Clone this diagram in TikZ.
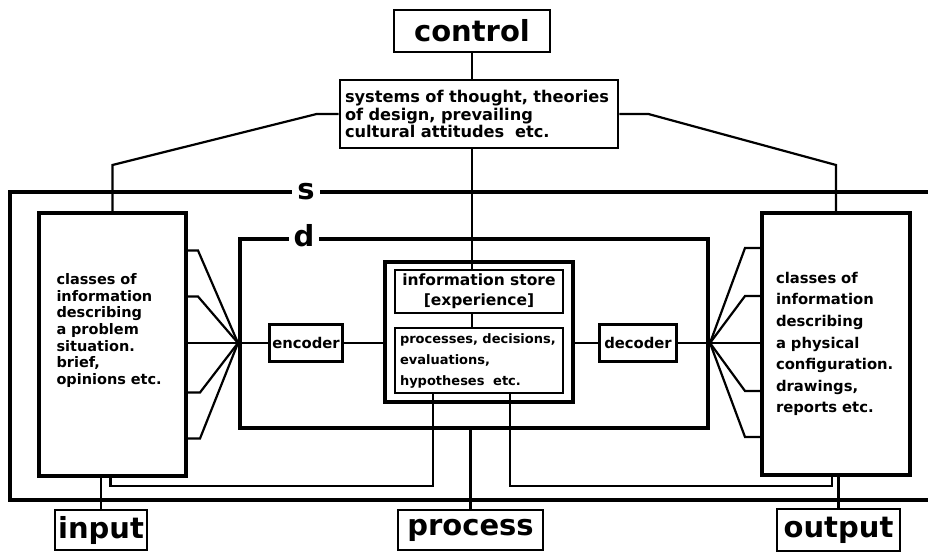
\documentclass[tikz,border=0pt]{standalone}
\usepackage{fontspec}
\setmainfont{DejaVu Sans}
\usepackage{tikz}
\newcommand\infofont[2]{\fontsize{#1}{#2}\selectfont\bfseries}
\newcommand\termfont{\fontsize{29}{34}\selectfont\bfseries}
\tikzstyle{box} = [draw, rectangle, line width=2.8pt, inner sep=0pt,
    font=\infofont{14.5}{17}]
\tikzstyle{term} = [draw, rectangle, line width=2.6pt, inner sep=0pt,
    font=\termfont]
\tikzstyle{frame} = [line width=4pt]
\tikzstyle{wire} = [line width=2.2pt]
\tikzstyle{tag} = [fill=white, inner xsep=5pt, inner ysep=2pt, font=\termfont]

\begin{document}
\begin{tikzpicture}[x=1pt, y=-1pt, node distance=100pt]
    \useasboundingbox (0,0) rectangle (928,556);
    % outer system s, open to the right
    \draw [frame] (928,192) -- (10,192) -- (10,500) -- (928,500);
    \node [tag] (s) at (306,192) {s};
    % design box d
    \node [draw, frame, rectangle, minimum width=468pt, minimum height=189pt] (dbox) at (474,333.5) {};
    \node [tag] (d) at (304,236) {d};
    % control
    \node [term, minimum width=156pt, minimum height=42pt] (control) at (472,31) {control};
    \node [box, minimum width=278pt, minimum height=68pt, text width=268pt, align=left,
        font=\infofont{16.2}{17.5}] (systems) at (479,114)
        {systems of thought, theories\\ of design, prevailing\\ cultural attitudes\ \ etc.};
    % store and processes
    \node [box, line width=4pt, minimum width=188pt, minimum height=140pt] (core) at (479,332) {};
    \node [box, line width=2.4pt, minimum width=168pt, minimum height=43pt, align=center, above of=core,
        node distance=40.5pt, font=\infofont{15.5}{20}] (store) {information store\\ {[}experience{]}};
    \node [box, line width=2.4pt, minimum width=168pt, minimum height=65pt, text width=166pt, align=left,
        below of=core, node distance=28.5pt, font=\infofont{13}{21}] (procs)
        {\hspace{4pt}processes, decisions,\\ \hspace{4pt}evaluations,\\ \hspace{4pt}hypotheses\ \ etc.};
    \node [box, minimum width=73pt, minimum height=37pt, font=\infofont{14.8}{17}] (encoder) at (306,343) {encoder};
    \node [box, minimum width=77pt, minimum height=37pt, font=\infofont{14.8}{17}, right of=encoder,
        node distance=332pt] (decoder) {decoder};
    % information classes
    \node [box, line width=4pt, minimum width=147pt, minimum height=263pt] (leftinfo) at (112.5,344.5) {};
    \node [text width=112pt, align=left, font=\infofont{14.5}{16.7}] (intext) at ([yshift=14pt]leftinfo.center)
        {classes of\\ information\\ describing\\ a problem\\ situation.\\ brief,\\ opinions etc.};
    \node [box, line width=4pt, minimum width=148pt, minimum height=262pt, text width=120pt, align=left,
        font=\infofont{14.8}{21.6}] (rightinfo) at (836,344)
        {classes of\\ information\\ describing\\ a physical\\ configuration.\\ drawings,\\ reports etc.};
    % terminals
    \node [term, minimum width=145pt, minimum height=40pt] (process) at (470.5,530) {process};
    \node [term, minimum width=92pt, minimum height=40pt, left of=process, node distance=369.5pt] (input) {input};
    \node [term, minimum width=123pt, minimum height=42pt, right of=process, node distance=368pt] (output) {output};
    \coordinate (inhub) at (dbox.west |- encoder);
    \coordinate (outhub) at (dbox.east |- decoder);

    % control lines
    \draw [wire] (control) -- (control |- systems.north);
    \draw [wire] (control |- systems.south) -- (control |- store.north);
    \draw [wire] (control |- store.south) -- (control |- procs.north);
    \draw [wire] (leftinfo.north) -- ++(0,-46) -- ([xshift=-22pt]systems.west) -- (systems.west);
    \draw [wire] (rightinfo.north) -- ++(0,-46) -- ([xshift=29pt]systems.east) -- (systems.east);
    % input fan
    \draw [wire] ([yshift=94pt]leftinfo.east) -- ++(10,0) -- (inhub);
    \draw [wire] ([yshift=48pt]leftinfo.east) -- ++(10,0) -- (inhub);
    \draw [wire] (leftinfo.east |- inhub) -- (inhub);
    \draw [wire] ([yshift=-48pt]leftinfo.east) -- ++(12,0) -- (inhub);
    \draw [wire] ([yshift=-94pt]leftinfo.east) -- ++(12,0) -- (inhub);
    % output fan
    \draw [wire] ([yshift=96pt]rightinfo.west) -- ++(-15,0) -- (outhub);
    \draw [wire] ([yshift=48pt]rightinfo.west) -- ++(-15,0) -- (outhub);
    \draw [wire] (rightinfo.west |- outhub) -- (outhub);
    \draw [wire] ([yshift=-47pt]rightinfo.west) -- ++(-15,0) -- (outhub);
    \draw [wire] ([yshift=-93pt]rightinfo.west) -- ++(-15,0) -- (outhub);
    % through the designer
    \draw [wire] (inhub) -- (encoder);
    \draw [wire] (encoder) -- (encoder -| core.west);
    \draw [wire] (decoder) -- (decoder -| core.east);
    \draw [wire] (decoder) -- (outhub);
    % process, input and output
    \draw [wire] (process) -- (process |- dbox.south);
    \draw [wire] (input) -- (input |- leftinfo.south);
    \draw [wire] (output) -- (output |- rightinfo.south);
    \draw [wire] ([xshift=-46pt]procs.south) -- ++(0,92) -| ([xshift=-2pt]leftinfo.south);
    \draw [wire] ([xshift=31pt]procs.south) -- ++(0,92) -| ([xshift=-4pt]rightinfo.south);
\end{tikzpicture}
\end{document}
